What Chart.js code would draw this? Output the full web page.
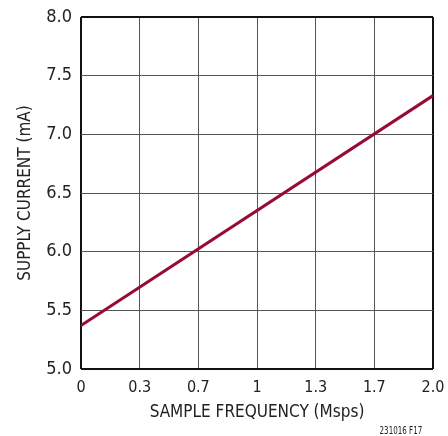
<!DOCTYPE html>
<html>
<head>
    <meta charset="utf-8">
    <title>Supply Current vs Sample Frequency</title>
    <script src="https://cdn.jsdelivr.net/npm/chart.js"></script>
    <style>
        body { margin: 0; background: #fff; }
        .wrap { position: relative; width: 448px; height: 436px; }
        .note {
            position: absolute; right: 26px; bottom: -1px;
            font-family: "Liberation Sans Narrow", "DejaVu Sans Condensed", sans-serif;
            font-size: 11px; color: #222;
            transform: scaleX(0.72); transform-origin: right center;
        }
    </style>
</head>
<body>
<div class="wrap">
    <canvas id="chart" width="448" height="436"></canvas>
    <div class="note">231016 F17</div>
</div>
<script>
    // Data
    var freqMsps = [0, 2.0];
    var supplyCurrent = [5.37, 7.33];
    var xTickValues = [0, 1/3, 2/3, 1, 4/3, 5/3, 2];
    var xTickLabels = ['0', '0.3', '0.7', '1', '1.3', '1.7', '2.0'];
    var yTickValues = [5.0, 5.5, 6.0, 6.5, 7.0, 7.5, 8.0];

    var fontFamily = '"Liberation Sans Narrow", "DejaVu Sans Condensed", sans-serif';

    function isEdge(ctx, min, max) {
        var v = ctx.tick ? ctx.tick.value : null;
        return Math.abs(v - min) < 1e-6 || Math.abs(v - max) < 1e-6;
    }

    new Chart(document.getElementById('chart'), {
        type: 'line',
        data: {
            datasets: [{
                data: freqMsps.map(function (x, i) { return { x: x, y: supplyCurrent[i] }; }),
                borderColor: '#980b32',
                borderWidth: 3,
                pointRadius: 0,
                fill: false
            }]
        },
        options: {
            responsive: false,
            animation: false,
            layout: { padding: { left: 11, right: 15, top: 17, bottom: 9 } },
            plugins: { legend: { display: false }, tooltip: { enabled: false } },
            scales: {
                x: {
                    type: 'linear',
                    min: 0, max: 2,
                    afterBuildTicks: function (axis) {
                        axis.ticks = xTickValues.map(function (v) { return { value: v }; });
                    },
                    afterFit: function (axis) {
                        axis.height = 58;
                        axis.paddingLeft = 0;
                        axis.paddingRight = 0;
                    },
                    ticks: {
                        autoSkip: false,
                        maxRotation: 0,
                        padding: 9,
                        color: '#222',
                        font: { family: fontFamily, size: 16 },
                        callback: function (v, i) { return xTickLabels[i]; }
                    },
                    grid: {
                        drawTicks: false,
                        color: function (c) { return isEdge(c, 0, 2) ? '#111' : '#555'; },
                        lineWidth: function (c) { return isEdge(c, 0, 2) ? 2 : 1; }
                    },
                    border: { display: false },
                    title: {
                        display: true,
                        text: 'SAMPLE FREQUENCY (Msps)',
                        color: '#222',
                        font: { family: fontFamily, size: 17 },
                        padding: { top: 2, bottom: 4 }
                    }
                },
                y: {
                    type: 'linear',
                    min: 5, max: 8,
                    afterBuildTicks: function (axis) {
                        axis.ticks = yTickValues.map(function (v) { return { value: v }; });
                    },
                    afterFit: function (axis) {
                        axis.width = 70;
                        axis.paddingTop = 0;
                        axis.paddingBottom = 0;
                    },
                    ticks: {
                        padding: 9,
                        color: '#222',
                        font: { family: fontFamily, size: 18 },
                        callback: function (v) { return v.toFixed(1); }
                    },
                    grid: {
                        drawTicks: false,
                        color: function (c) { return isEdge(c, 5, 8) ? '#111' : '#555'; },
                        lineWidth: function (c) { return isEdge(c, 5, 8) ? 2 : 1; }
                    },
                    border: { display: false },
                    title: {
                        display: true,
                        text: 'SUPPLY CURRENT (mA)',
                        color: '#222',
                        font: { family: fontFamily, size: 17 },
                        padding: { top: 4, bottom: 4 }
                    }
                }
            }
        }
    });
</script>
</body>
</html>
